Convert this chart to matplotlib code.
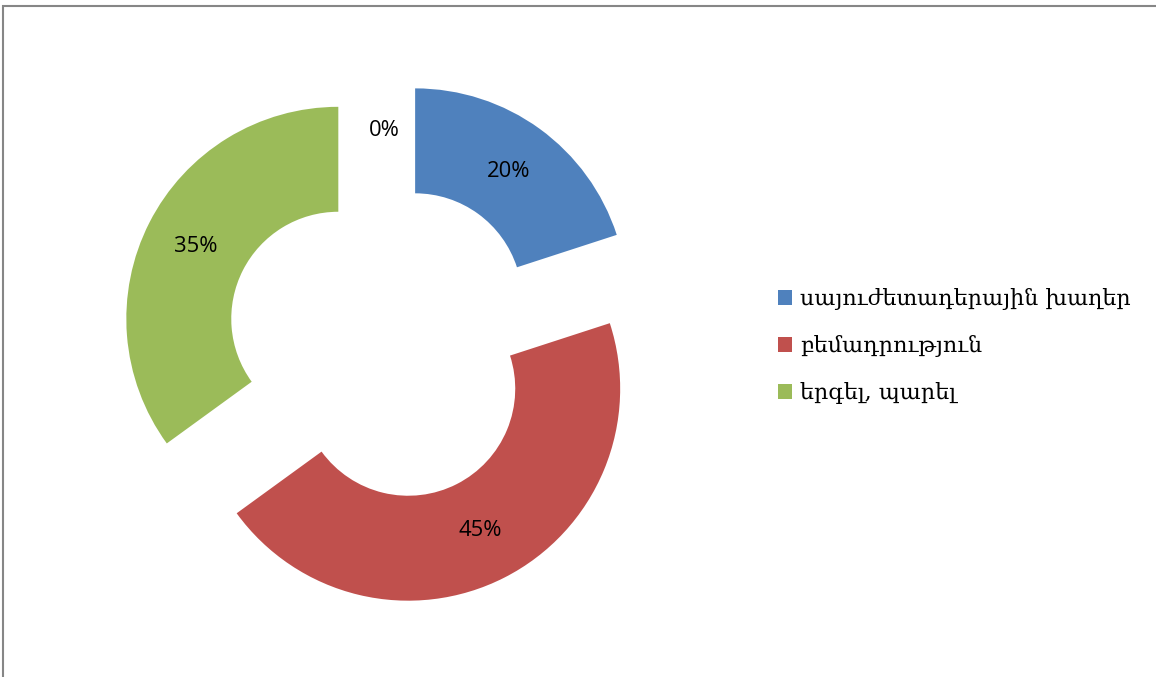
import matplotlib
matplotlib.use("Agg")
import matplotlib.pyplot as plt
from matplotlib.patches import Patch, Rectangle

categories = ["սայուժետադերային խաղեր", "բեմադրություն", "երգել, պարել", ""]
values = [20, 45, 35, 0]
colors = ["#4F81BD", "#C0504D", "#9BBB59", "#F79646"]

W, H = 1156, 677
fig = plt.figure(figsize=(W / 100, H / 100), dpi=100)

# donut center (px) and radius
cx, cy, R = 384.6, 342.4, 212.0
half = 320.0
ax = fig.add_axes([(cx - half) / W, (H - cy - half) / H, 2 * half / W, 2 * half / H])

wedges, texts, autotexts = ax.pie(
    values,
    colors=colors,
    startangle=90,
    counterclock=False,
    explode=[0.245] * len(values),
    radius=1.0,
    wedgeprops=dict(width=0.495, edgecolor="none"),
    autopct=lambda p: f"{p:.0f}%",
    pctdistance=0.7525,
    textprops=dict(fontsize=15.8, family=["Open Sans", "DejaVu Sans"], color="black"),
)
ax.set_xlim(-half / R, half / R)
ax.set_ylim(-half / R, half / R)
ax.set_aspect("equal")
ax.axis("off")

handles = [Patch(facecolor=c, edgecolor="none") for c in colors[:3]]
leg = fig.legend(
    handles,
    categories[:3],
    loc="upper left",
    bbox_to_anchor=(758 / W, 1 - 268 / H),
    frameon=False,
    handlelength=0.65,
    handleheight=0.65,
    handletextpad=0.35,
    labelspacing=1.13,
    prop=dict(family=["DejaVu Serif"], size=16),
)

# outer chart border
fig.patches.append(
    Rectangle((2.5 / W, -0.1), 2.0, 1.1 - 6.5 / H, transform=fig.transFigure,
              fill=False, edgecolor="#868686", linewidth=1.5)
)

fig.savefig("out.png", dpi=100)
